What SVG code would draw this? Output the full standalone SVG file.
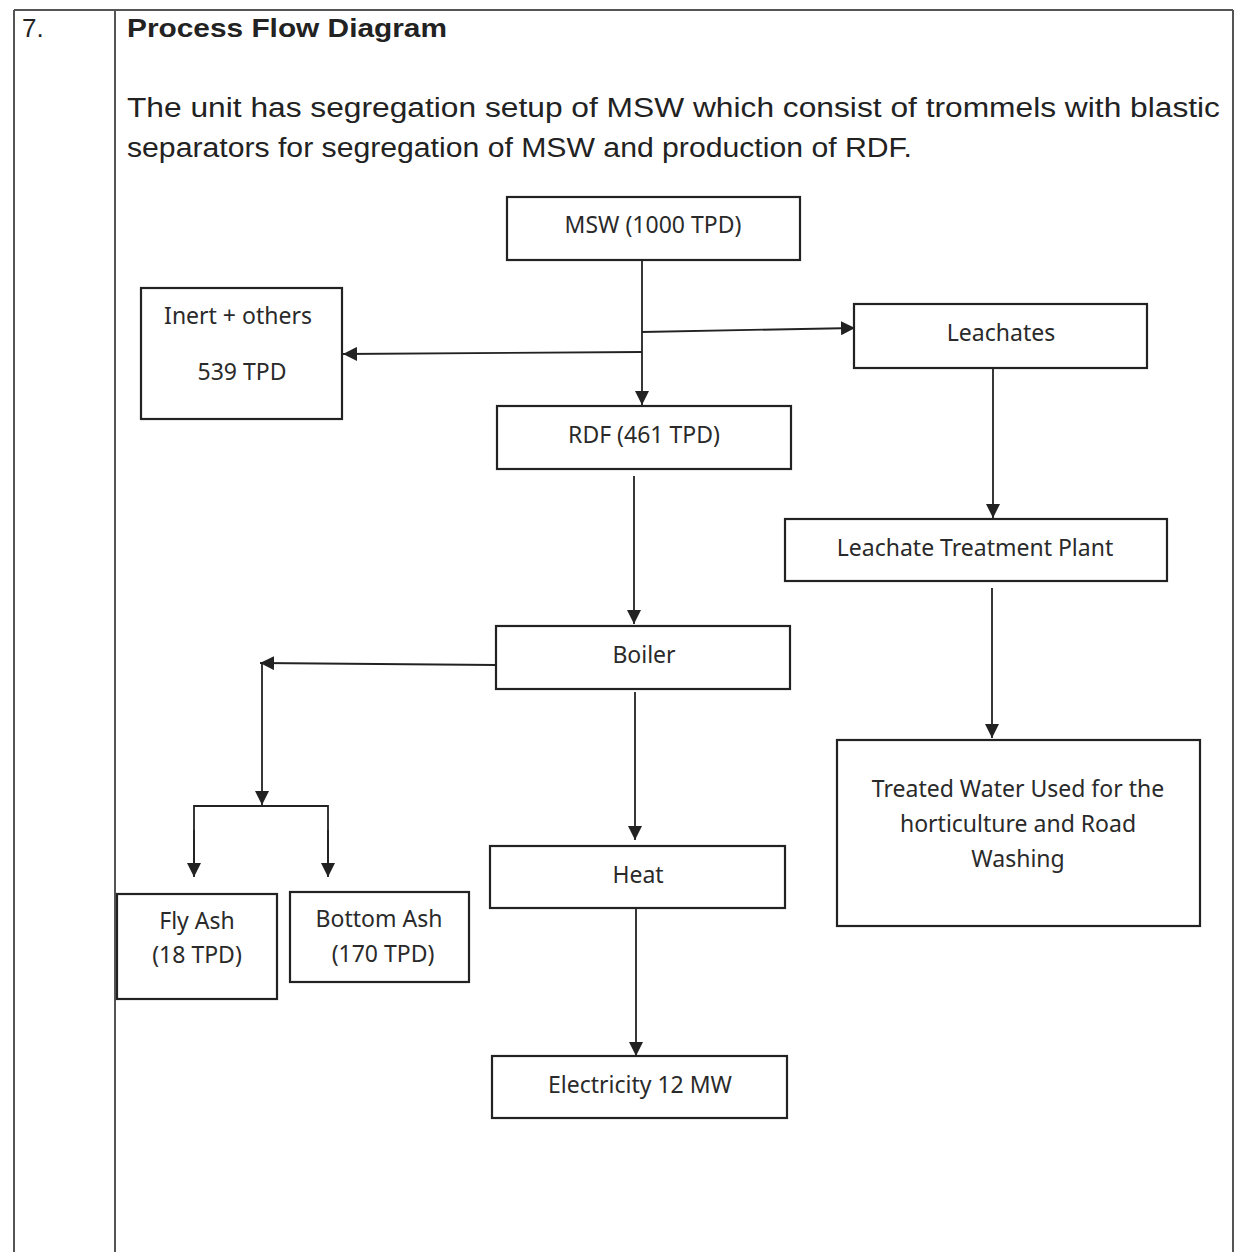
<svg xmlns="http://www.w3.org/2000/svg" width="1239" height="1252" viewBox="0 0 1239 1252">
<style>
.tbl{stroke:#555;stroke-width:2;fill:none}
.box{fill:#fff;stroke:#222;stroke-width:2.2}
.lbl{font-family:"Noto Sans",Lato,sans-serif;font-size:23px;fill:#2a2a2a;text-anchor:middle}
.hdr{font-family:"Liberation Sans",Arial,sans-serif;fill:#222}
.con{stroke:#222;stroke-width:1.8;fill:none}
</style>
<defs>
<marker id="ah" viewBox="0 0 10 10" refX="10" refY="5" markerWidth="14" markerHeight="14" markerUnits="userSpaceOnUse" orient="auto">
<path d="M0,0 L10,5 L0,10 z" fill="#222"/>
</marker>
</defs>
<rect width="1239" height="1252" fill="#fff"/>
<g id="table">
<line class="tbl" x1="14" y1="10" x2="1233" y2="10"/>
<line class="tbl" x1="14" y1="10" x2="14" y2="1252"/>
<line class="tbl" x1="115" y1="10" x2="115" y2="1252"/>
<line class="tbl" x1="1233" y1="10" x2="1233" y2="1252"/>
</g>
<g id="header">
<text class="hdr" x="22" y="37" font-size="26">7.</text>
<text class="hdr" x="127" y="37" font-size="26" font-weight="bold" textLength="320" lengthAdjust="spacingAndGlyphs">Process Flow Diagram</text>
<text class="hdr" x="127" y="117" font-size="27" textLength="1093" lengthAdjust="spacingAndGlyphs">The unit has segregation setup of MSW which consist of trommels with blastic</text>
<text class="hdr" x="127" y="157" font-size="27" textLength="785" lengthAdjust="spacingAndGlyphs">separators for segregation of MSW and production of RDF.</text>
</g>
<g id="connectors">
<line class="con" x1="642" y1="260" x2="642" y2="405" marker-end="url(#ah)"/>
<line class="con" x1="642" y1="352" x2="343" y2="354" marker-end="url(#ah)"/>
<line class="con" x1="642" y1="332" x2="855" y2="328" marker-end="url(#ah)"/>
<line class="con" x1="993" y1="368" x2="993" y2="518" marker-end="url(#ah)"/>
<line class="con" x1="634" y1="476" x2="634" y2="624" marker-end="url(#ah)"/>
<line class="con" x1="496" y1="665" x2="260" y2="663" marker-end="url(#ah)"/>
<line class="con" x1="262" y1="663" x2="262" y2="805" marker-end="url(#ah)"/>
<polyline class="con" points="194,876 194,806 328,806 328,876"/>
<line class="con" x1="194" y1="830" x2="194" y2="877" marker-end="url(#ah)"/>
<line class="con" x1="328" y1="830" x2="328" y2="877" marker-end="url(#ah)"/>
<line class="con" x1="992" y1="588" x2="992" y2="738" marker-end="url(#ah)"/>
<line class="con" x1="635" y1="692" x2="635" y2="840" marker-end="url(#ah)"/>
<line class="con" x1="636" y1="908" x2="636" y2="1056" marker-end="url(#ah)"/>
</g>
<g id="msw"><rect class="box" x="507" y="197" width="293" height="63"/><text class="lbl" x="653" y="233">MSW (1000 TPD)</text></g>
<g id="inert"><rect class="box" x="141" y="288" width="201" height="131"/><text class="lbl" x="238" y="324">Inert + others</text><text class="lbl" x="242" y="380">539 TPD</text></g>
<g id="leachates"><rect class="box" x="854" y="304" width="293" height="64"/><text class="lbl" x="1001" y="341">Leachates</text></g>
<g id="rdf"><rect class="box" x="497" y="406" width="294" height="63"/><text class="lbl" x="644" y="443">RDF (461 TPD)</text></g>
<g id="ltp"><rect class="box" x="785" y="519" width="382" height="62"/><text class="lbl" x="975" y="556">Leachate Treatment Plant</text></g>
<g id="boiler"><rect class="box" x="496" y="626" width="294" height="63"/><text class="lbl" x="644" y="663">Boiler</text></g>
<g id="treated"><rect class="box" x="837" y="740" width="363" height="186"/><text class="lbl" x="1018" y="797">Treated Water Used for the</text><text class="lbl" x="1018" y="832">horticulture and Road</text><text class="lbl" x="1018" y="867">Washing</text></g>
<g id="heat"><rect class="box" x="490" y="846" width="295" height="62"/><text class="lbl" x="638" y="883">Heat</text></g>
<g id="flyash"><rect class="box" x="117" y="894" width="160" height="105"/><text class="lbl" x="197" y="929">Fly Ash</text><text class="lbl" x="197" y="963">(18 TPD)</text></g>
<g id="bottomash"><rect class="box" x="290" y="892" width="179" height="90"/><text class="lbl" x="379" y="927">Bottom Ash</text><text class="lbl" x="383" y="962">(170 TPD)</text></g>
<g id="electricity"><rect class="box" x="492" y="1056" width="295" height="62"/><text class="lbl" x="640" y="1093">Electricity 12 MW</text></g>
</svg>
